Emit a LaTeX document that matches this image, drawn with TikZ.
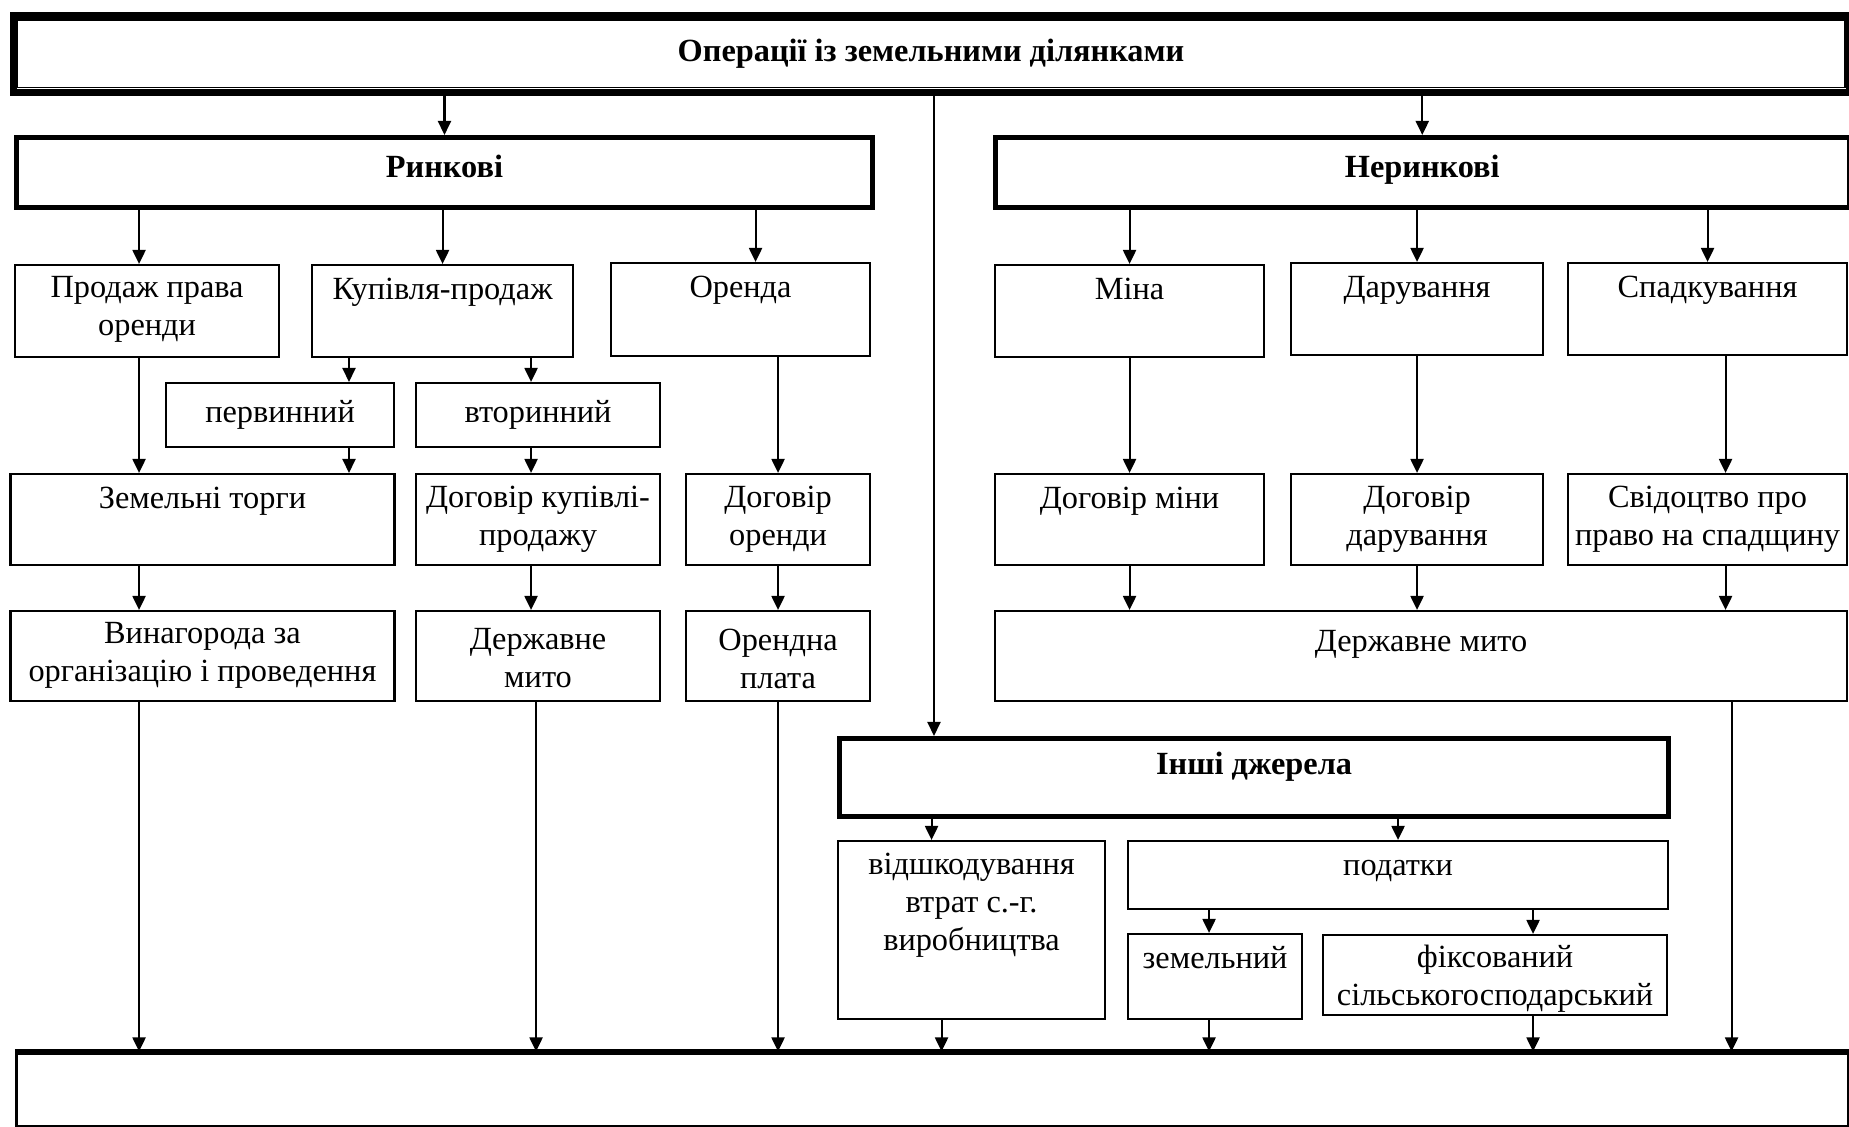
\documentclass[tikz,border=0pt]{standalone}
\usepackage{fontspec}
\setmainfont{Liberation Serif}
\usetikzlibrary{arrows.meta,positioning}

\begin{document}
\begin{tikzpicture}[
    every node/.style={font=\fontsize{9.2pt}{10.8pt}\selectfont},
    box/.style={draw, line width=0.6pt, anchor=north west, inner sep=0pt},
    boldbox/.style={draw, line width=1.3pt, anchor=north west, inner sep=0pt},
    txt/.style={anchor=north, align=center, inner sep=0pt, yshift=-0.085cm,
      execute at begin node=\strut},
    txttwo/.style={txt, yshift=-0.035cm},
    txtlow/.style={txt, yshift=-0.06cm},
    txtlowtwo/.style={txt, yshift=-0.095cm},
    boldtxt/.style={txt, yshift=-0.03cm, font=\fontsize{9.2pt}{10.8pt}\selectfont\bfseries},
    arr/.style={line width=0.6pt, -{Triangle[length=0.14cm,width=0.13cm]}}
  ]
  \useasboundingbox (0,0) rectangle (18.49,-11.27);

  % top
  \node[boldbox, line width=2pt, minimum width=18.36cm, minimum height=0.77cm,
    font=\fontsize{9.2pt}{10.8pt}\selectfont\bfseries] (oper) at (0.095,-0.12) {Операції із земельними ділянками};
  \draw[line width=0.5pt] ([shift={(0.08,-0.08)}]oper.north west) rectangle ([shift={(-0.075,0.085)}]oper.south east);

  \node[boldbox, minimum width=8.56cm, minimum height=0.705cm, label={[boldtxt, yshift=-0.04cm]north:Ринкові}] (rynk) at (0.142,-1.35) {};
  \node[boldbox, minimum width=8.54cm, minimum height=0.705cm, label={[boldtxt, yshift=-0.04cm]north:Неринкові}] (nerynk) at (9.93,-1.35) {};

  % row 1
  \node[box, minimum width=2.64cm, minimum height=0.92cm, label={[txttwo]north:Продаж права\\оренди}] (prodazh) at (0.14,-2.64) {};
  \node[box, minimum width=2.61cm, minimum height=0.92cm, label={[txt]north:Купівля-продаж}] (kupivlia) at (3.11,-2.64) {};
  \node[box, minimum width=2.59cm, minimum height=0.93cm, label={[txt]north:Оренда}] (orenda) at (6.10,-2.62) {};
  \node[box, minimum width=2.69cm, minimum height=0.92cm, label={[txt]north:Міна}] (mina) at (9.94,-2.64) {};
  \node[box, minimum width=2.52cm, minimum height=0.92cm, label={[txt]north:Дарування}] (daruv) at (12.90,-2.62) {};
  \node[box, minimum width=2.79cm, minimum height=0.92cm, label={[txt]north:Спадкування}] (spadk) at (15.67,-2.62) {};

  % row 2
  \node[box, minimum width=2.28cm, minimum height=0.64cm] (pervyn) at (1.65,-3.82) {первинний};
  \node[box, minimum width=2.44cm, minimum height=0.64cm] (vtoryn) at (4.15,-3.82) {вторинний};

  % row 3
  \node[box, minimum width=3.84cm, minimum height=0.91cm, label={[txt]north:Земельні торги}] (torgy) at (0.094,-4.73) {};
  \node[box, minimum width=2.44cm, minimum height=0.91cm, label={[txttwo]north:Договір купівлі-\\продажу}] (dkupiv) at (4.15,-4.73) {};
  \node[box, minimum width=1.84cm, minimum height=0.91cm, label={[txttwo]north:Договір\\оренди}] (doren) at (6.85,-4.73) {};
  \node[box, minimum width=2.69cm, minimum height=0.91cm, label={[txt]north:Договір міни}] (dminy) at (9.94,-4.73) {};
  \node[box, minimum width=2.52cm, minimum height=0.91cm, label={[txttwo]north:Договір\\дарування}] (ddaruv) at (12.90,-4.73) {};
  \node[box, minimum width=2.79cm, minimum height=0.91cm, label={[txttwo]north:Свідоцтво про\\право на спадщину}] (svid) at (15.67,-4.73) {};

  % row 4
  \node[box, minimum width=3.84cm, minimum height=0.90cm, label={[txttwo]north:Винагорода за\\організацію і проведення}] (vynag) at (0.094,-6.10) {};
  \node[box, minimum width=2.44cm, minimum height=0.90cm, label={[txtlowtwo]north:Державне\\мито}] (mytoA) at (4.15,-6.10) {};
  \node[box, minimum width=1.84cm, minimum height=0.90cm, label={[txtlowtwo]north:Орендна\\плата}] (plata) at (6.85,-6.10) {};
  \node[box, minimum width=8.52cm, minimum height=0.90cm, label={[txtlow]north:Державне мито}] (mytoB) at (9.94,-6.10) {};

  % other sources
  \node[boldbox, line width=1.5pt, minimum width=8.29cm, minimum height=0.78cm, label={[boldtxt]north:Інші джерела}] (inshi) at (8.37,-7.36) {};
  \node[box, minimum width=2.67cm, minimum height=1.78cm, label={[txttwo]north:відшкодування\\втрат с.-г.\\виробництва}] (vidshk) at (8.37,-8.40) {};
  \node[box, minimum width=5.40cm, minimum height=0.68cm, label={[txt]north:податки}] (podatky) at (11.27,-8.40) {};
  \node[box, minimum width=1.74cm, minimum height=0.85cm, label={[txt]north:земельний}] (zemel) at (11.27,-9.33) {};
  \node[box, minimum width=3.44cm, minimum height=0.80cm, label={[txt, yshift=-0.015cm]north:фіксований\\сільськогосподарський}] (fiks) at (13.22,-9.34) {};

  % bottom
  \node[box, line width=0.9pt, minimum width=18.32cm, minimum height=0.735cm] (bottom) at (0.15,-10.515) {};
  \draw[line width=1.5pt] (bottom.north west) -- (bottom.north east);

  % arrows from the top
  \draw[arr] (oper.south -| rynk.north) -- (rynk.north);
  \draw[arr] (oper.south -| nerynk.north) -- (nerynk.north);
  \coordinate (mainx) at ([xshift=0.97cm]inshi.north west);
  \draw[arr] (oper.south -| mainx) -- (mainx);

  % market
  \coordinate (c1) at ([xshift=-0.08cm]prodazh.north);
  \draw[arr] (c1 |- rynk.south) -- (c1);
  \draw[arr] (c1 |- prodazh.south) -- (c1 |- torgy.north);
  \draw[arr] (c1 |- torgy.south) -- (c1 |- vynag.north);
  \draw[arr] (c1 |- vynag.south) -- (c1 |- bottom.north);

  \draw[arr] (rynk.south -| kupivlia.north) -- (kupivlia.north);
  \coordinate (c2) at ([xshift=0.38cm]kupivlia.south west);
  \draw[arr] (c2) -- (c2 |- pervyn.north);
  \draw[arr] (c2 |- pervyn.south) -- (c2 |- torgy.north);
  \coordinate (c3) at ([xshift=-0.07cm]vtoryn.north);
  \draw[arr] (c3 |- kupivlia.south) -- (c3);
  \draw[arr] (c3 |- vtoryn.south) -- (c3 |- dkupiv.north);
  \draw[arr] (c3 |- dkupiv.south) -- (c3 |- mytoA.north);
  \draw[arr] ([xshift=-0.02cm]mytoA.south) -- ([xshift=-0.02cm]mytoA.south |- bottom.north);

  \coordinate (c4) at ([xshift=0.15cm]orenda.north);
  \draw[arr] (c4 |- rynk.south) -- (c4);
  \draw[arr] (orenda.south -| doren.north) -- (doren.north);
  \draw[arr] (doren.south) -- (plata.north);
  \draw[arr] (plata.south) -- (plata.south |- bottom.north);

  % non-market
  \draw[arr] (nerynk.south -| mina.north) -- (mina.north);
  \draw[arr] (mina.south) -- (dminy.north);
  \draw[arr] (dminy.south) -- (dminy.south |- mytoB.north);
  \draw[arr] (nerynk.south -| daruv.north) -- (daruv.north);
  \draw[arr] (daruv.south) -- (ddaruv.north);
  \draw[arr] (ddaruv.south) -- (ddaruv.south |- mytoB.north);
  \draw[arr] (nerynk.south -| spadk.north) -- (spadk.north);
  \coordinate (c5) at ([xshift=0.18cm]svid.north);
  \draw[arr] (c5 |- spadk.south) -- (c5);
  \draw[arr] (c5 |- svid.south) -- (c5 |- mytoB.north);
  \coordinate (c6) at ([xshift=0.24cm]svid.north);
  \draw[arr] (c6 |- mytoB.south) -- (c6 |- bottom.north);

  % other sources
  \coordinate (c7) at ([xshift=-0.40cm]vidshk.north);
  \draw[arr] (c7 |- inshi.south) -- (c7);
  \draw[arr] ([xshift=-0.30cm]vidshk.south) -- ([xshift=-0.30cm]vidshk.south |- bottom.north);
  \draw[arr] (inshi.south -| podatky.north) -- (podatky.north);
  \coordinate (c8) at ([xshift=-0.06cm]zemel.north);
  \draw[arr] (c8 |- podatky.south) -- (c8);
  \draw[arr] (c8 |- zemel.south) -- (c8 |- bottom.north);
  \coordinate (c9) at ([xshift=0.38cm]fiks.north);
  \draw[arr] (c9 |- podatky.south) -- (c9);
  \draw[arr] (c9 |- fiks.south) -- (c9 |- bottom.north);
\end{tikzpicture}
\end{document}
